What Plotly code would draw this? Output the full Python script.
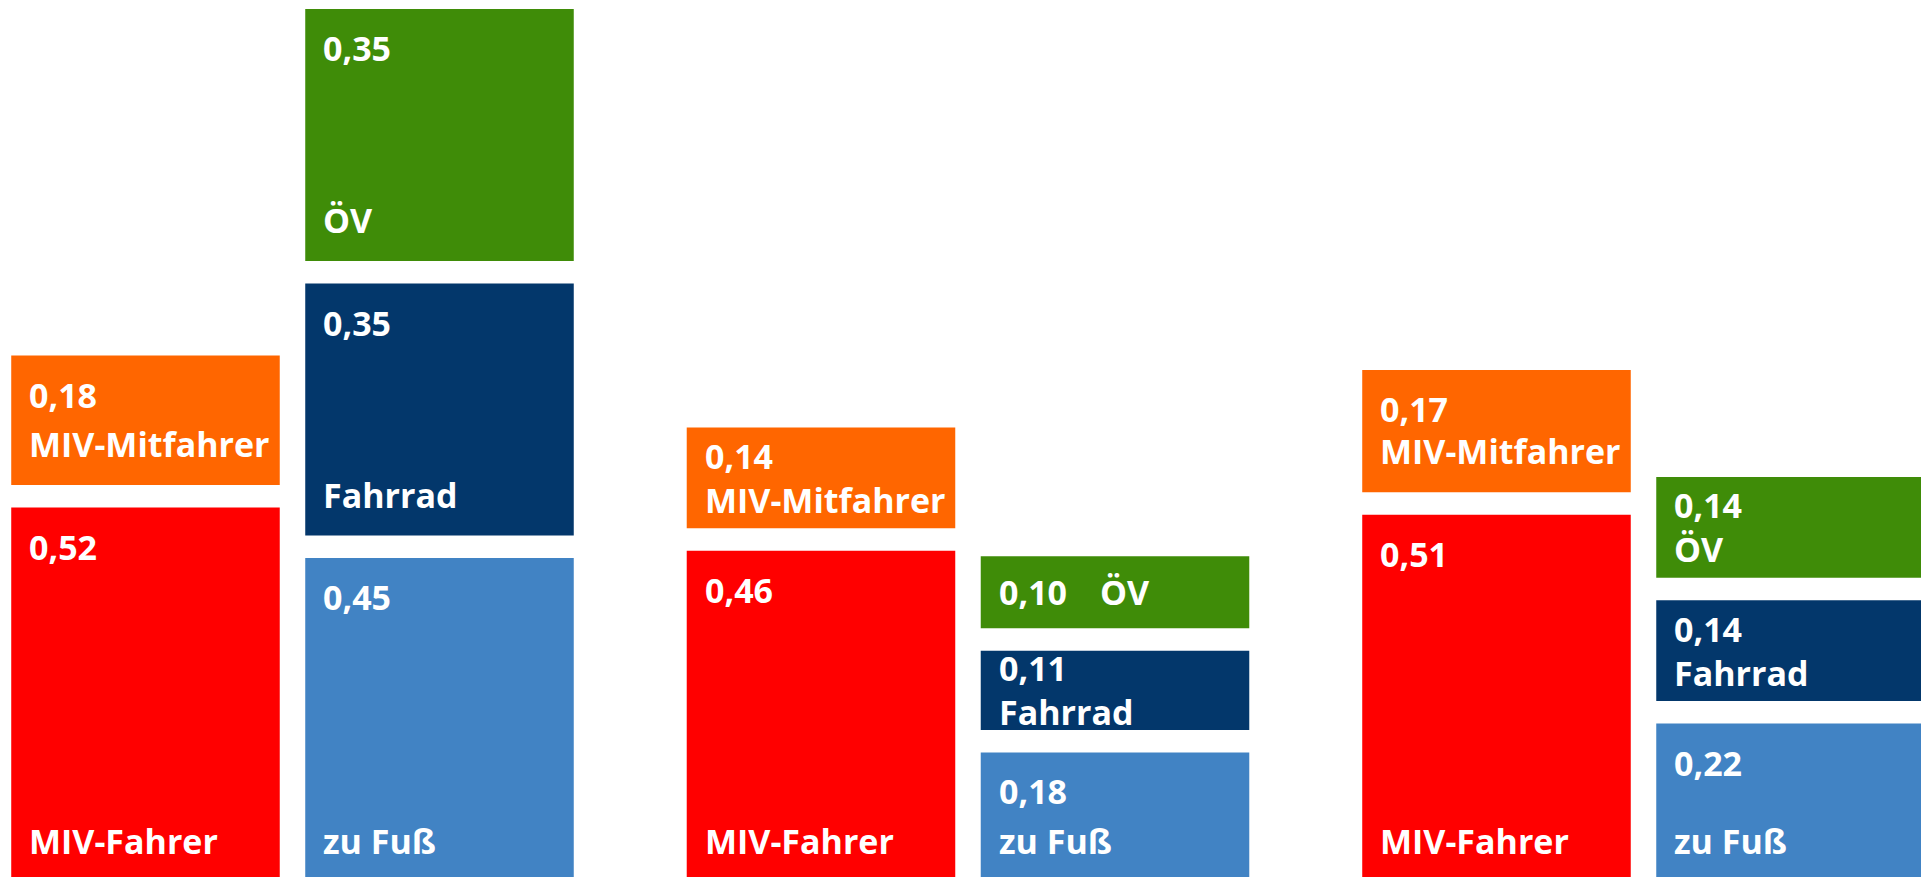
import numpy as np
import plotly.graph_objects as go

# ---------------- data ----------------
groups = ["Gruppe 1", "Gruppe 2", "Gruppe 3"]

miv_fahrer = [0.52, 0.46, 0.51]
miv_mitfahrer = [0.18, 0.14, 0.17]
zu_fuss = [0.45, 0.18, 0.22]
fahrrad = [0.35, 0.11, 0.14]
oev = [0.35, 0.10, 0.14]

series_names = ["MIV-Fahrer", "MIV-Mitfahrer", "zu Fuß", "Fahrrad", "ÖV"]
series_values = [miv_fahrer, miv_mitfahrer, zu_fuss, fahrrad, oev]
series_stack = ["miv", "miv", "rest", "rest", "rest"]
series_colors = ["#FF0000", "#FF6600", "#4183C4", "#03376B", "#3F8C08"]

# ---------------- style ----------------
W, H = 1921, 877
GAP = 0.03125          # white gap between stacked segments (data units)
BARGAP = 0.1295
BARGROUPGAP = 0.0867
FONT = dict(family="Open Sans, Lato, sans-serif", size=34, color="white", weight=700)
PX_PER_UNIT = 720.0
Y_RANGE = [5 / PX_PER_UNIT, 882 / PX_PER_UNIT]
X_RANGE = [-0.4330, 2.4108]

x = np.arange(len(groups))
stack_order = []
for s in series_stack:
    if s not in stack_order:
        stack_order.append(s)

fig = go.Figure()
cum = {s: np.zeros(len(groups)) for s in stack_order}
count = {s: 0 for s in stack_order}
segments = []
for name, vals, og, col in zip(series_names, series_values, series_stack, series_colors):
    v = np.array(vals, dtype=float)
    base = cum[og] + (GAP if count[og] > 0 else 0.0)
    fig.add_trace(go.Bar(
        x=x, y=v, base=base, name=name, offsetgroup=og,
        marker=dict(color=col, line=dict(width=0)),
        customdata=groups, hovertemplate="%{customdata}<br>" + name + ": %{y:.2f}<extra></extra>",
        showlegend=False,
    ))
    segments.append((name, v, base, og))
    cum[og] = base + v
    count[og] += 1

# ---------------- labels ----------------
slot = (1 - BARGAP) / len(stack_order)
annotations = []
PAD_X = 16


def fmt(val):
    return f"{val:.2f}".replace(".", ",")


def px(p):
    return p / PX_PER_UNIT


for name, v, base, og in segments:
    j = stack_order.index(og)
    for i in range(len(groups)):
        left = x[i] - (1 - BARGAP) / 2 + j * slot + slot * BARGROUPGAP / 2
        top = base[i] + v[i]
        bottom = base[i]
        mid = (top + bottom) / 2
        common = dict(xref="x", yref="y", x=left, xanchor="left", yanchor="middle",
                      showarrow=False, font=FONT, xshift=PAD_X)
        if v[i] >= 0.16:
            annotations.append(dict(text=fmt(v[i]), y=top - px(39), **common))
            annotations.append(dict(text=name, y=bottom + px(41), **common))
        elif v[i] >= 0.105:
            annotations.append(dict(text=fmt(v[i]), y=mid + px(22), **common))
            annotations.append(dict(text=name, y=mid - px(22), **common))
        else:
            annotations.append(dict(text=fmt(v[i]), y=mid, **common))
            c2 = dict(common)
            c2["xshift"] = PAD_X + 101
            annotations.append(dict(text=name, y=mid, **c2))

fig.update_layout(
    width=W, height=H,
    margin=dict(l=0, r=0, t=0, b=0, pad=0),
    paper_bgcolor="white", plot_bgcolor="white",
    barmode="group", bargap=BARGAP, bargroupgap=BARGROUPGAP,
    xaxis=dict(visible=False, range=X_RANGE, fixedrange=True),
    yaxis=dict(visible=False, range=Y_RANGE, fixedrange=True),
    annotations=annotations,
    showlegend=False,
)

fig.write_html("out.html", config={"displayModeBar": False},
               post_script="document.body.style.margin='0';document.body.style.overflow='hidden';")
